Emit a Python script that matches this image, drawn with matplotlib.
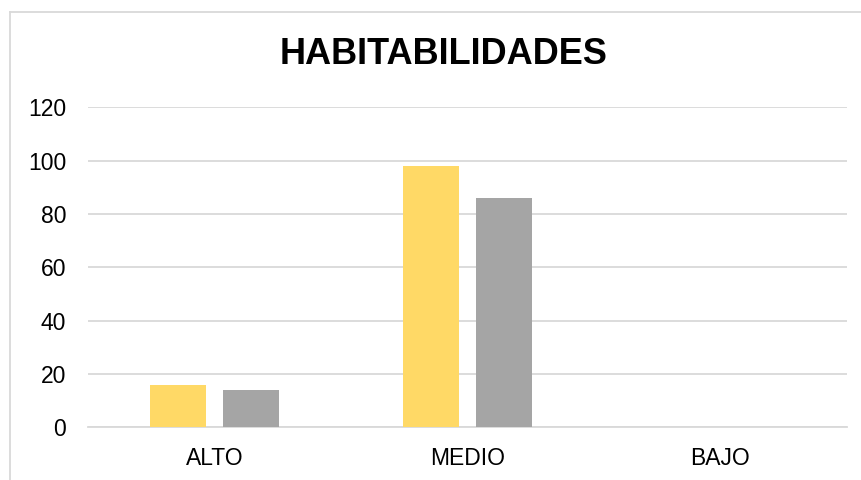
import numpy as np
import matplotlib
matplotlib.use('Agg')
import matplotlib.pyplot as plt

## data
categories = ['ALTO', 'MEDIO', 'BAJO']
serie_1 = [16, 98, 0]
serie_2 = [14, 86, 0]
yticks = [0, 20, 40, 60, 80, 100, 120]

plt.rcParams['font.family'] = ['Liberation Sans', 'DejaVu Sans']

fig = plt.figure(figsize=(8.61, 4.8), dpi=100)
ax = fig.add_axes([88.3 / 861, 1 - 427.3 / 480, (846.7 - 88.3) / 861, 320 / 480])

x = np.arange(len(categories))
w = 0.223
off = 0.144
ax.bar(x - off, serie_1, width=w, color='#FFD966', zorder=3)
ax.bar(x + off, serie_2, width=w, color='#A5A5A5', zorder=3)

ax.set_xlim(-0.5, len(categories) - 0.5)
ax.set_ylim(0, 120)
ax.set_yticks(yticks)
ax.set_xticks(x)
ax.set_xticklabels(categories)
ax.grid(axis='y', color='#D9D9D9', linewidth=1.3, zorder=0)
for s in ['top', 'right', 'left']:
    ax.spines[s].set_visible(False)
ax.spines['bottom'].set_color('#D9D9D9')
ax.spines['bottom'].set_linewidth(1.3)
ax.tick_params(axis='both', length=0, labelsize=16.5, colors='black')
ax.tick_params(axis='y', pad=16)
ax.tick_params(axis='x', pad=14)

# titulo
fig.text(443.3 / 861, 1 - 64 / 480, 'HABITABILIDADES', ha='center', va='baseline',
         fontsize=26, fontweight='bold')

# borde del grafico
fig.add_artist(plt.Line2D([10 / 861, 1], [1 - 12 / 480] * 2, color='#D9D9D9', lw=1.3,
                          transform=fig.transFigure))
fig.add_artist(plt.Line2D([10 / 861] * 2, [0, 1 - 12 / 480], color='#D9D9D9', lw=1.3,
                          transform=fig.transFigure))

fig.savefig('out.png', dpi=100)
